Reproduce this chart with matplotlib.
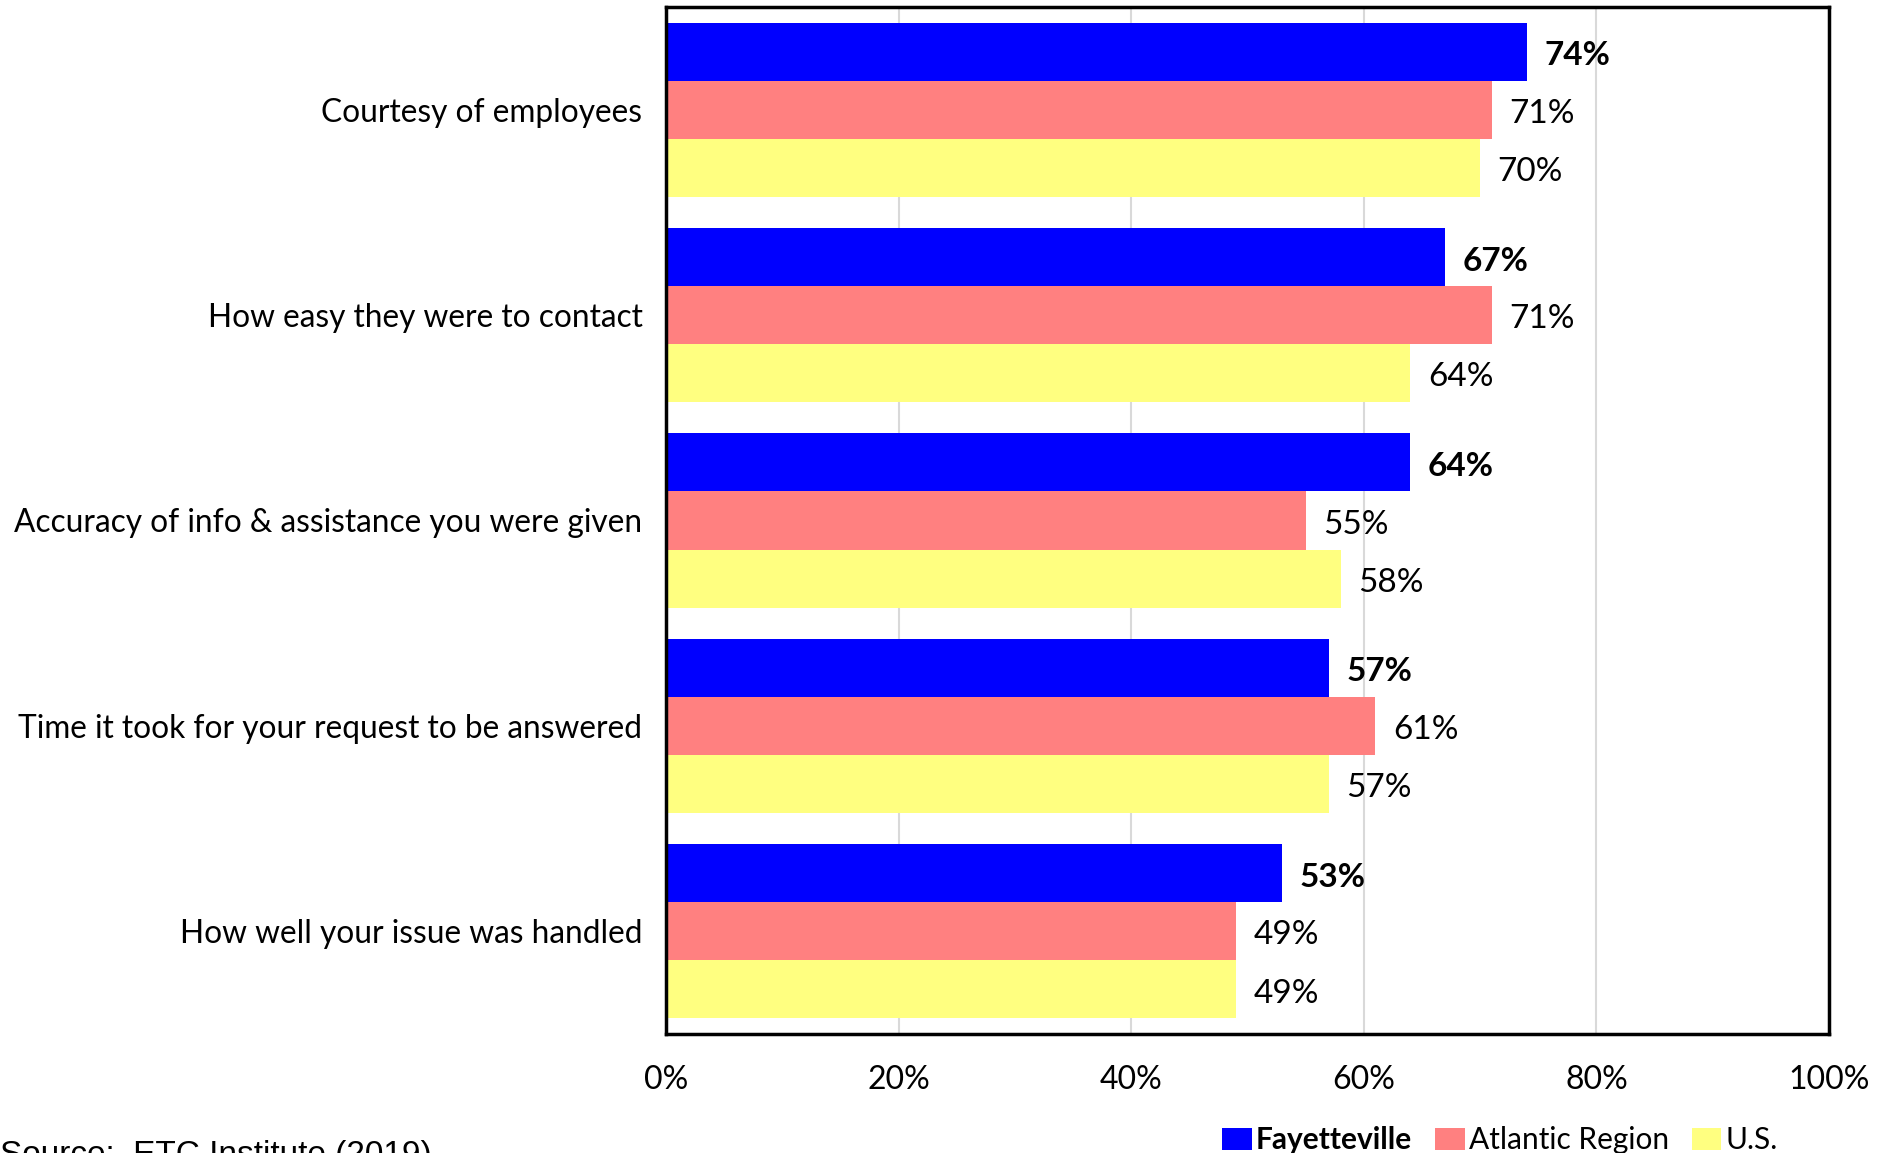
import matplotlib.pyplot as plt
from matplotlib.patches import Patch
import numpy as np

categories = [
    "Courtesy of employees",
    "How easy they were to contact",
    "Accuracy of info & assistance you were given",
    "Time it took for your request to be answered",
    "How well your issue was handled",
]
series_names = ["Fayetteville", "Atlantic Region", "U.S."]
fayetteville = [74, 67, 64, 57, 53]
atlantic = [71, 71, 55, 61, 49]
us = [70, 64, 58, 57, 49]
tick_labels = ["0%", "20%", "40%", "60%", "80%", "100%"]

colors = ["#0000FF", "#FF8080", "#FFFF80"]
FONT = "Lato"

W, H = 1891, 1153
fig = plt.figure(figsize=(W / 100, H / 100), dpi=100)
ax = fig.add_axes([666 / W, 1 - 1034 / H, (1829 - 666) / W, (1034 - 7) / H])

bar_h = 0.283
y = np.arange(len(categories))
data = [fayetteville, atlantic, us]
for i, (vals, col) in enumerate(zip(data, colors)):
    pos = y + (i - 1) * bar_h
    ax.barh(pos, vals, height=bar_h, color=col, zorder=2)
    for p, v in zip(pos, vals):
        ax.text(v + 1.5, p + 0.02, f"{v}%", va="center", ha="left",
                fontsize=24, family=FONT,
                fontweight="bold" if i == 0 else "normal", color="black")

ax.set_ylim(len(categories) - 0.5, -0.5)
ax.set_xlim(0, 100)
ax.set_yticks(y)
ax.set_yticklabels(categories, fontsize=22.8, family=FONT)
ax.set_xticks(np.arange(0, 101, 20))
ax.set_xticklabels(tick_labels, fontsize=23, family=FONT)
ax.tick_params(axis="both", length=0)
ax.tick_params(axis="y", pad=17)
ax.tick_params(axis="x", pad=22)
ax.grid(axis="x", color="#D9D9D9", linewidth=1.5, zorder=0)
for s in ax.spines.values():
    s.set_linewidth(2.5)
    s.set_color("black")

handles = [Patch(facecolor=c, edgecolor="none") for c in colors]
leg = fig.legend(handles, series_names, loc="center", bbox_to_anchor=(1500 / W, 1 - 1140 / H),
                 ncol=3, frameon=False, handlelength=1.0, handleheight=0.75,
                 handletextpad=0.15, columnspacing=0.75,
                 prop={"family": FONT, "size": 21.5})
leg.get_texts()[0].set_fontweight("bold")

fig.text(0 / W, 1 - 1140 / H, "Source:  ETC Institute (2019)", ha="left", va="top",
         fontsize=24, family="Liberation Sans")

fig.savefig("out.png", dpi=100)
